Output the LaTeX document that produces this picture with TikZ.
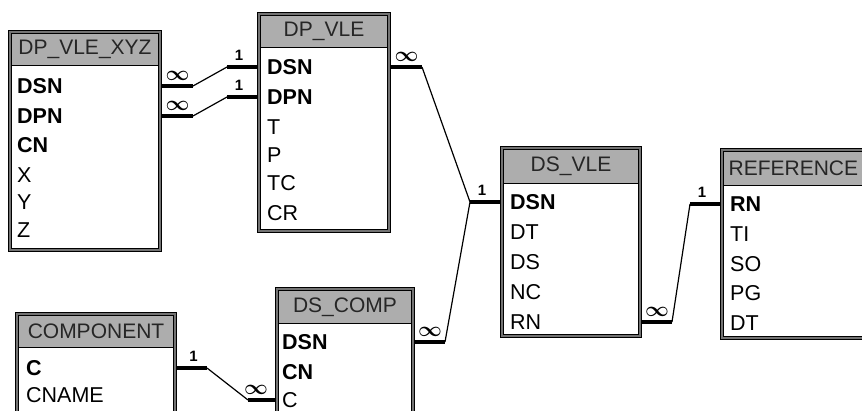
\documentclass[tikz,border=0pt]{standalone}
\usepackage{fontspec}
\setmainfont{Liberation Sans}
\usepackage{tikz}
\usetikzlibrary{calc,positioning}

\begin{document}
\begin{tikzpicture}[
    x=1pt, y=-1pt,
    tbl/.style={draw=black, double=black!55, double distance=2pt, line width=0.8pt, fill=white, inner sep=0pt, outer sep=1.8pt},
    ttl/.style={draw=black, line width=0.6pt, fill=black!32, inner sep=0pt, text=black!85, font=\fontsize{21}{21}\selectfont},
    fld/.style={anchor=west, inner sep=0pt, font=\fontsize{21.5}{21.5}\selectfont},
    key/.style={fld, font=\fontsize{21.5}{21.5}\selectfont\bfseries},
    link/.style={line width=4pt},
    lnk/.style={line width=1.2pt},
    many/.style={above=3pt, inner sep=0pt, font=\fontsize{21}{21}\selectfont\boldmath},
    one/.style={above=4pt, inner sep=0pt, font=\fontsize{15}{15}\selectfont\bfseries}
]
\useasboundingbox (0,0) rectangle (862,411);
\clip (0,0) rectangle (862,411);

\node[tbl, minimum width=150.4pt, minimum height=218.4pt] (xyz) at (85,141) {};
\node[ttl, minimum width=146.8pt, minimum height=31.4pt] (xyz-t) at (85,49.3) {DP\_VLE\_XYZ};
\node[key] (xyz-dsn) at (17,86) {DSN};
\node[key] (xyz-dpn) at (17,116) {DPN};
\node[key] (xyz-cn) at (17,145) {CN};
\node[fld] (xyz-x) at (17,175) {X};
\node[fld] (xyz-y) at (17,202) {Y};
\node[fld] (xyz-z) at (17,230) {Z};

\node[tbl, minimum width=130.4pt, minimum height=217.4pt] (dpv) at (324,122.5) {};
\node[ttl, minimum width=126.8pt, minimum height=31.4pt] (dpv-t) at (324,31.3) {DP\_VLE};
\node[key] (dpv-dsn) at (267,67) {DSN};
\node[key] (dpv-dpn) at (267,97) {DPN};
\node[fld] (dpv-t1) at (267,127) {T};
\node[fld] (dpv-p) at (267,155) {P};
\node[fld] (dpv-tc) at (267,183) {TC};
\node[fld] (dpv-cr) at (267,213) {CR};

\node[tbl, minimum width=138.4pt, minimum height=188.4pt] (dsv) at (571,242) {};
\node[ttl, minimum width=134.8pt, minimum height=33.4pt] (dsv-t) at (571,166.3) {DS\_VLE};
\node[key] (dsv-dsn) at (510,202) {DSN};
\node[fld] (dsv-dt) at (510,232) {DT};
\node[fld] (dsv-ds) at (510,262) {DS};
\node[fld] (dsv-nc) at (510,292) {NC};
\node[fld] (dsv-rn) at (510,322) {RN};

\node[tbl, minimum width=156.4pt, minimum height=188.4pt] (ref) at (800,244) {};
\node[ttl, minimum height=33.4pt, text width=142.8pt, inner xsep=5pt, align=left] (ref-t) at (800,168.3) {REFERENCE};
\node[key] (ref-rn) at (730,204) {RN};
\node[fld] (ref-ti) at (730,234) {TI};
\node[fld] (ref-so) at (730,264) {SO};
\node[fld] (ref-pg) at (730,293) {PG};
\node[fld] (ref-dt) at (730,323) {DT};

\node[tbl, minimum width=158.4pt, minimum height=124.4pt] (cmp) at (96,376) {};
\node[ttl, minimum width=154.8pt, minimum height=31.4pt] (cmp-t) at (96,331.3) {COMPONENT};
\node[key] (cmp-c) at (26,368) {C};
\node[fld] (cmp-cname) at (26,395) {CNAME};

\node[tbl, minimum width=136.4pt, minimum height=149.4pt] (dsc) at (345,363.5) {};
\node[ttl, minimum width=132.8pt, minimum height=32.4pt] (dsc-t) at (345,306.8) {DS\_COMP};
\node[key] (dsc-dsn) at (282,342) {DSN};
\node[key] (dsc-cn) at (282,372) {CN};
\node[fld] (dsc-c) at (282,400) {C};

\draw[link] (xyz.east |- xyz-dsn) -- node[many] (m1) {$\infty$} ++(31,0) coordinate (a1);
\draw[link] (dpv.west |- dpv-dsn) -- node[one, pos=0.6] (o1) {1} ++(-30,0) coordinate (b1);
\draw[lnk] (a1) -- (b1);

\draw[link] (xyz.east |- xyz-dpn) -- node[many] (m2) {$\infty$} ++(31,0) coordinate (a2);
\draw[link] (dpv.west |- dpv-dpn) -- node[one, pos=0.6] (o2) {1} ++(-30,0) coordinate (b2);
\draw[lnk] (a2) -- (b2);

\draw[link] (dpv.east |- dpv-dsn) -- node[many] (m3) {$\infty$} ++(31,0) coordinate (a3);
\draw[link] (dsv.west |- dsv-dsn) -- node[one, pos=0.6] (o3) {1} ++(-30,0) coordinate (jv);
\draw[lnk] (a3) -- (jv);

\draw[link] (dsc.east |- dsc-dsn) -- node[many] (m4) {$\infty$} ++(30,0) coordinate (a4);
\draw[lnk] (a4) -- (jv);

\draw[link] (dsv.east |- dsv-rn) -- node[many] (m5) {$\infty$} ++(30,0) coordinate (a5);
\draw[link] (ref.west |- ref-rn) -- node[one, pos=0.6] (o5) {1} ++(-30,0) coordinate (b5);
\draw[lnk] (a5) -- (b5);

\draw[link] (cmp.east |- cmp-c) -- node[one, pos=0.55] (o6) {1} ++(30,0) coordinate (a6);
\draw[link] (dsc.west |- dsc-c) -- node[many, pos=0.7] (m6) {$\infty$} ++(-27,0) coordinate (b6);
\draw[lnk] (a6) -- (b6);
\end{tikzpicture}
\end{document}
